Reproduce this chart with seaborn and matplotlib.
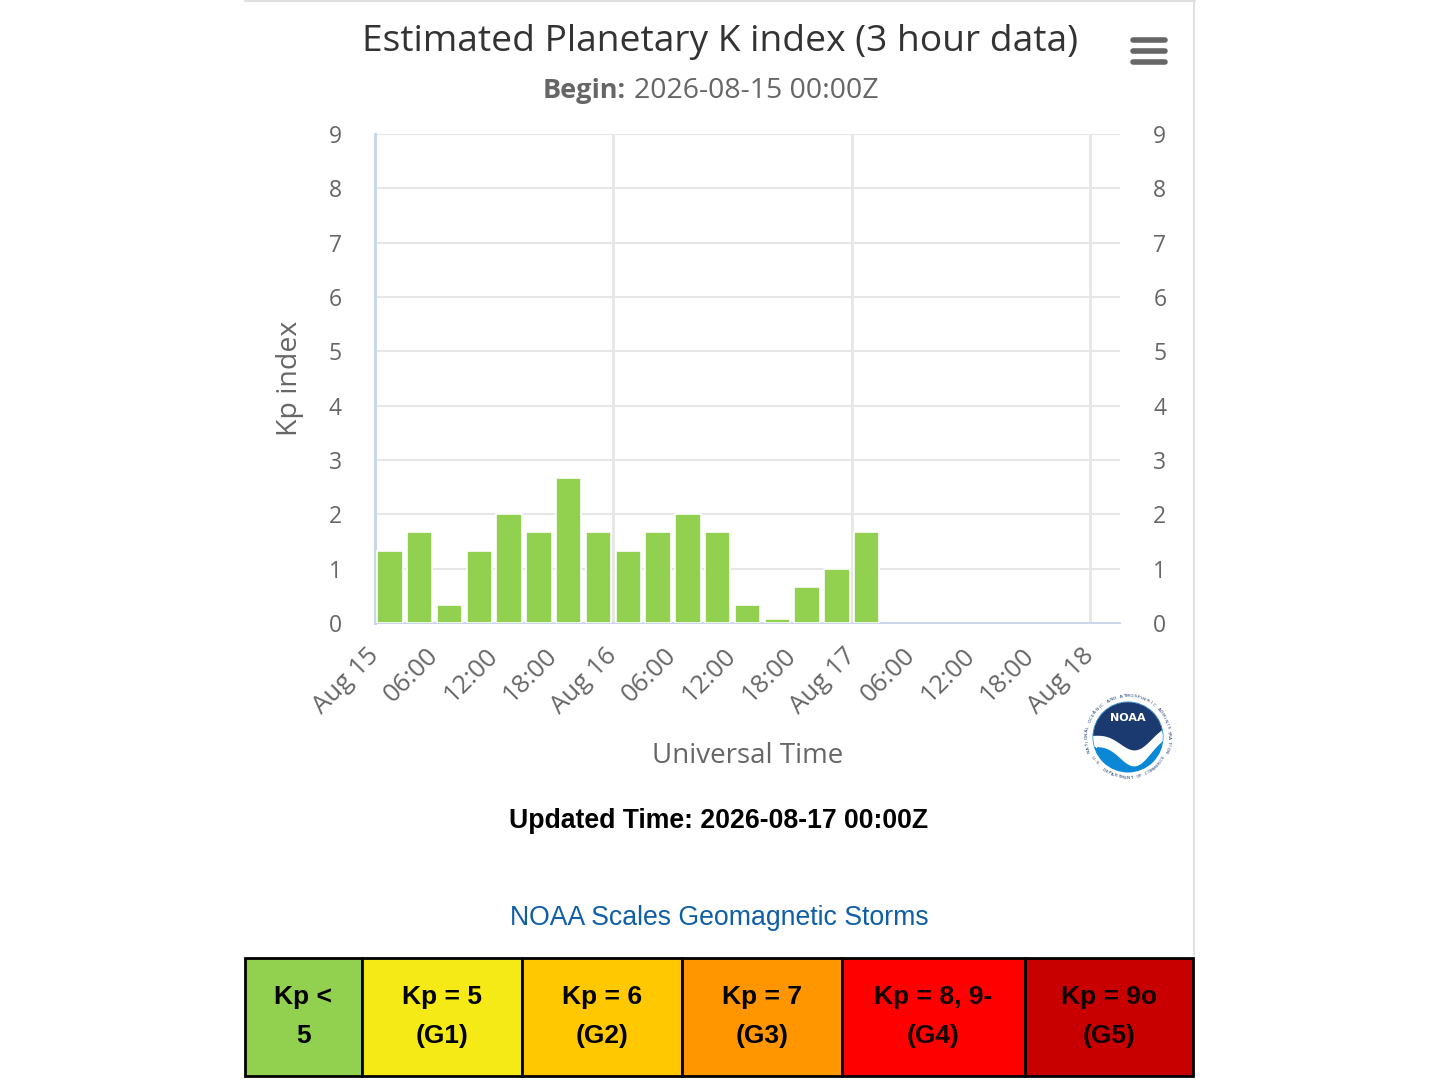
import numpy as np
import pandas as pd
import matplotlib
matplotlib.use('Agg')
import matplotlib.pyplot as plt
import seaborn as sns
from matplotlib.patches import Rectangle, Circle
from matplotlib.lines import Line2D

# 数据
bar_hours = [1.5, 4.5, 7.5, 10.5, 13.5, 16.5, 19.5, 22.5, 25.5, 28.5, 31.5, 34.5, 37.5, 40.5, 43.5, 46.5, 49.5]
kp_values = [1.33, 1.67, 0.33, 1.33, 2.0, 1.67, 2.67, 1.67, 1.33, 1.67, 2.0, 1.67, 0.33, 0.07, 0.67, 1.0, 1.67]
tick_hours = list(range(0, 73, 6))
tick_labels = ['Aug 15', '06:00', '12:00', '18:00', 'Aug 16', '06:00', '12:00', '18:00',
               'Aug 17', '06:00', '12:00', '18:00', 'Aug 18']

scale_top = ['Kp <', 'Kp = 5', 'Kp = 6', 'Kp = 7', 'Kp = 8, 9-', 'Kp = 9o']
scale_bottom = ['5', '(G1)', '(G2)', '(G3)', '(G4)', '(G5)']
scale_colors = ['#92D050', '#F6EA16', '#FFC800', '#FF9600', '#FF0000', '#C80000']
scale_text_colors = ['#000000', '#000000', '#000000', '#000000', '#140000', '#100000']

df = pd.DataFrame({'hour': bar_hours, 'kp': kp_values})

sns.set_style('white')
plt.rcParams['font.family'] = ['Open Sans', 'DejaVu Sans']

W, H = 1440, 1080
fig = plt.figure(figsize=(14.4, 10.8), dpi=100)


def fx(x):
    return x / W


def fy(y):
    return 1 - y / H


# 主图
ax = fig.add_axes([fx(375), fy(623), fx(1120) - fx(375), fy(134) - fy(623)])
sns.barplot(data=df, x='hour', y='kp', native_scale=True, color='#92D050', saturation=1,
            width=0.85, edgecolor='white', linewidth=1.2, errorbar=None, ax=ax, zorder=3)
ax.set_xlim(0, 75)
ax.set_ylim(0, 9)
ax.set_yticks(range(10))
ax.set_yticklabels([str(i) for i in range(10)])
ax.set_xticks(tick_hours)
ax.set_xticklabels(tick_labels)
ax.set_xlabel('')
ax.set_ylabel('')

for v in range(1, 10):
    ax.axhline(v, color='#e6e6e6', lw=1.5, zorder=0)
for d in [24, 48, 72]:
    ax.axvline(d, color='#e6e6e6', lw=2, zorder=0)

for s in ['top', 'right']:
    ax.spines[s].set_visible(False)
ax.spines['left'].set_color('#ccd6eb')
ax.spines['left'].set_linewidth(2.2)
ax.spines['bottom'].set_color('#ccd6eb')
ax.spines['bottom'].set_linewidth(1.5)
ax.tick_params(axis='y', length=0, pad=24, labelsize=16.5, labelcolor='#666666')
ax.tick_params(axis='x', direction='out', length=15, width=1.5, color='#ccd6eb',
               pad=6, labelsize=18.5, labelcolor='#666666')
plt.setp(ax.get_xticklabels(), rotation=45, ha='right', va='center', rotation_mode='anchor')

ax2 = ax.twinx()
ax2.set_ylim(0, 9)
ax2.set_yticks(range(10))
ax2.tick_params(axis='y', length=0, pad=24, labelsize=16.5, labelcolor='#666666')
for s in ax2.spines.values():
    s.set_visible(False)

# 文字
fig.text(fx(720), fy(42), 'Estimated Planetary K index (3 hour data)', ha='center', va='center',
         fontsize=26.7, color='#333333')
fig.text(fx(626), fy(91), 'Begin:', ha='right', va='center', fontsize=19.5, color='#666666',
         fontweight='bold')
fig.text(fx(634), fy(91), '2026-08-15 00:00Z', ha='left', va='center', fontsize=20.5, color='#666666')
fig.text(fx(290), fy(378), 'Kp index', ha='center', va='center', rotation=90, fontsize=20.5,
         color='#666666')
fig.text(fx(748), fy(756), 'Universal Time', ha='center', va='center', fontsize=20, color='#666666')
fig.text(fx(719), fy(821), 'Updated Time: 2026-08-17 00:00Z', ha='center', va='center',
         fontsize=19.2, fontweight='bold', color='black', family='Liberation Sans')
fig.text(fx(719), fy(918), 'NOAA Scales Geomagnetic Storms', ha='center', va='center',
         fontsize=19.2, color='#0f5ea8', family='Liberation Sans')

# 边框和菜单
fig.add_artist(Line2D([fx(245), fx(1195)], [fy(1), fy(1)], color='#e0e0e0', lw=1.5))
fig.add_artist(Line2D([fx(1194), fx(1194)], [fy(0), fy(955)], color='#e0e0e0', lw=1.5))
for yy in [40, 51, 62]:
    fig.add_artist(Line2D([fx(1133), fx(1165)], [fy(yy), fy(yy)], color='#666666', lw=4,
                          solid_capstyle='round'))

# NOAA 标志
lg = fig.add_axes([fx(1081), fy(784), fx(1175) - fx(1081), fy(690) - fy(784)])
lg.set_xlim(-1, 1)
lg.set_ylim(-1, 1)
lg.set_aspect('equal')
lg.axis('off')
lg.add_patch(Circle((0, 0), 1, color='white'))
disk = Circle((0, 0), 0.74, color='#0a88d6')
lg.add_patch(disk)
xs = np.linspace(-1, 1, 200)
white_top = 0.05 - 0.55 * np.exp(-((xs - 0.15) / 0.45) ** 2) + 0.15 * xs
navy_bot = white_top + 0.12 + 0.1 * np.exp(-((xs - 0.1) / 0.4) ** 2)
wb = lg.fill_between(xs, white_top - 0.12, 1, color='white')
wb.set_clip_path(disk)
nv = lg.fill_between(xs, navy_bot, 1, color='#1b3a70')
nv.set_clip_path(disk)
lg.text(0, 0.4, 'NOAA', ha='center', va='center', color='white', fontsize=8, fontweight='bold',
        family='DejaVu Sans')
ring_top = 'NATIONAL OCEANIC AND ATMOSPHERIC ADMINISTRATION'
for i, ch in enumerate(ring_top):
    a = np.deg2rad(200 - i * 220 / (len(ring_top) - 1))
    lg.text(0.87 * np.cos(a), 0.87 * np.sin(a), ch, ha='center', va='center', fontsize=3.2,
            color='#1b3a70', rotation=np.rad2deg(a) - 90, family='DejaVu Sans')
ring_bot = 'U.S. DEPARTMENT OF COMMERCE'
for i, ch in enumerate(ring_bot):
    a = np.deg2rad(-150 + i * 120 / (len(ring_bot) - 1))
    lg.text(0.87 * np.cos(a), 0.87 * np.sin(a), ch, ha='center', va='center', fontsize=3.2,
            color='#1b3a70', rotation=np.rad2deg(a) + 90, family='DejaVu Sans')

# 底部刻度表
edges = [245, 362, 522, 682, 842, 1025, 1193]
tb = fig.add_axes([fx(244), fy(1078), fx(1195) - fx(244), fy(956) - fy(1078)])
tb.set_xlim(244, 1195)
tb.set_ylim(1078, 956)
tb.axis('off')
for i in range(len(scale_top)):
    x0, x1 = edges[i], edges[i + 1]
    tb.add_patch(Rectangle((x0, 958), x1 - x0, 118, facecolor=scale_colors[i], edgecolor='black',
                           lw=2))
    tb.text((x0 + x1) / 2, 997, scale_top[i], ha='center', va='center', fontsize=19,
            fontweight='bold', color=scale_text_colors[i], family='Liberation Sans')
    tb.text((x0 + x1) / 2, 1036, scale_bottom[i], ha='center', va='center', fontsize=19,
            fontweight='bold', color=scale_text_colors[i], family='Liberation Sans')

fig.savefig('out.png', dpi=100, facecolor='white')
